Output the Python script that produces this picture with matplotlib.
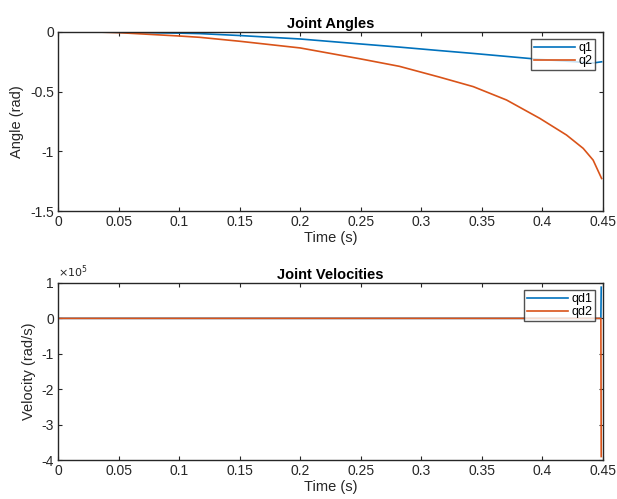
import matplotlib.pyplot as plt
from matplotlib.ticker import FuncFormatter

plt.rcParams['font.family'] = ['Liberation Sans', 'DejaVu Sans']
plt.rcParams['axes.unicode_minus'] = False

# joint angles (rad)
t_ang = [0.0, 0.03, 0.05, 0.1, 0.117, 0.15, 0.2, 0.249, 0.282, 0.315, 0.343,
         0.3705, 0.398, 0.42, 0.4338, 0.442, 0.449]
q1 = [0.0, 0.0, -0.003, -0.01, -0.014, -0.03, -0.059, -0.10, -0.127, -0.156, -0.18,
      -0.205, -0.23, -0.245, -0.255, -0.26, -0.25]
q2 = [0.0, 0.0, -0.006, -0.034, -0.045, -0.078, -0.134, -0.224, -0.288, -0.378, -0.458,
      -0.570, -0.724, -0.863, -0.975, -1.073, -1.227]

# joint velocities (rad/s): flat until a spike at the very end
t_vel = [0.0, 0.4484, 0.4487]
qd1 = [0.0, 0.0, 0.88e5]
qd2 = [0.0, 0.0, -3.9e5]

x_ticks = [0, 0.05, 0.1, 0.15, 0.2, 0.25, 0.3, 0.35, 0.4, 0.45]
ang_ticks = [-1.5, -1, -0.5, 0]
vel_ticks = [-4e5, -3e5, -2e5, -1e5, 0, 1e5]

BLUE = "#0072BD"
ORANGE = "#D95319"
DARK = "#262626"

fig = plt.figure(figsize=(6.17, 4.99), dpi=100)
ax1 = fig.add_axes([0.094, 0.577, 0.883, 0.359])
ax2 = fig.add_axes([0.094, 0.078, 0.883, 0.355])


def style(ax):
    for s in ax.spines.values():
        s.set_color(DARK)
        s.set_linewidth(1.0)
    ax.tick_params(direction='in', top=True, right=True, length=3, width=0.8,
                   colors=DARK, labelsize=10, pad=3)
    ax.set_xlim(0, 0.45)
    ax.set_xticks(x_ticks)
    ax.xaxis.set_major_formatter(FuncFormatter(lambda v, p: f"{v:g}"))


def add_legend(ax):
    leg = ax.legend(loc='upper right', fontsize=9, frameon=True, fancybox=False,
                    edgecolor=DARK, borderpad=0.2, handlelength=3.3, handletextpad=0.3,
                    labelspacing=0.1, borderaxespad=0.6)
    leg.get_frame().set_linewidth(1.0)


ax1.plot(t_ang, q1, color=BLUE, lw=1.2, label='q1')
ax1.plot(t_ang, q2, color=ORANGE, lw=1.2, label='q2')
style(ax1)
ax1.set_ylim(-1.5, 0)
ax1.set_yticks(ang_ticks)
ax1.yaxis.set_major_formatter(FuncFormatter(lambda v, p: f"{v:g}"))
ax1.set_title('Joint Angles', fontsize=10.5, fontweight='bold', color='black', pad=3)
ax1.set_xlabel('Time (s)', fontsize=10.5, color=DARK, labelpad=1)
ax1.set_ylabel('Angle (rad)', fontsize=10.5, color=DARK, labelpad=4)
add_legend(ax1)

ax2.plot(t_vel, qd1, color=BLUE, lw=1.2, label='qd1')
ax2.plot(t_vel, qd2, color=ORANGE, lw=1.2, label='qd2')
style(ax2)
ax2.set_ylim(-4e5, 1e5)
ax2.set_yticks(vel_ticks)
ax2.yaxis.set_major_formatter(FuncFormatter(lambda v, p: f"{v / 1e5:g}"))
ax2.text(0.0, 1.015, r'$\times10^5$', transform=ax2.transAxes, fontsize=8,
         color=DARK, ha='left', va='bottom')
ax2.set_title('Joint Velocities', fontsize=10.5, fontweight='bold', color='black', pad=3)
ax2.set_xlabel('Time (s)', fontsize=10.5, color=DARK, labelpad=1)
ax2.set_ylabel('Velocity (rad/s)', fontsize=10.5, color=DARK, labelpad=4)
add_legend(ax2)

fig.savefig('out.png', dpi=100, facecolor='white')
